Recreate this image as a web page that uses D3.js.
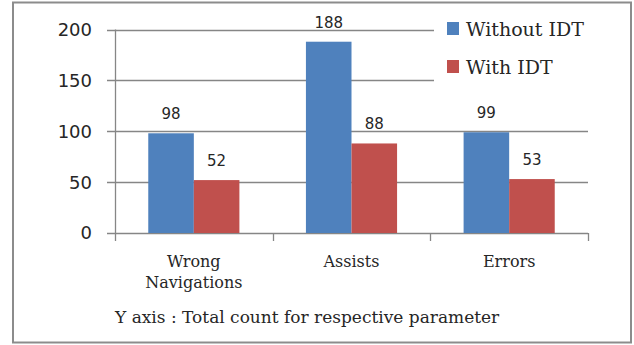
<!DOCTYPE html>
<html><head><meta charset="utf-8">
<script src="https://cdn.jsdelivr.net/npm/d3@7"></script>
<style>body{margin:0;background:#fff}svg{display:block}</style>
</head><body>
<script>
const categories = [["Wrong","Navigations"],["Assists"],["Errors"]];
const seriesNames = ["Without IDT","With IDT"];
const withoutIDT = [98, 188, 99];
const withIDT = [52, 88, 53];
const yTicks = [0, 50, 100, 150, 200];
const footer = "Y axis : Total count for respective parameter";
const colors = ["#4F81BD","#C0504D"];

const W = 634, H = 345;
const svg = d3.select("body").append("svg").attr("width", W).attr("height", H);
svg.append("rect").attr("x",13).attr("y",2.5).attr("width",618).attr("height",340)
  .attr("fill","#fff").attr("stroke","#8c8c8c").attr("stroke-width",2);

const x0 = 115, x1 = 588, yTop = 29.5, yBot = 233;
const y = d3.scaleLinear().domain([0,200]).range([yBot, yTop]);
const xb = d3.scaleBand().domain(d3.range(categories.length)).range([x0, x1]);
const xs = d3.scaleBand().domain(d3.range(seriesNames.length)).range([0, xb.bandwidth()]).paddingOuter(0.73).paddingInner(0);

// gridlines
svg.append("g").selectAll("line").data(yTicks).join("line")
  .attr("x1", x0 - 8).attr("x2", x1).attr("y1", d => Math.round(y(d)) + 0.5).attr("y2", d => Math.round(y(d)) + 0.5)
  .attr("stroke", "#868686").attr("stroke-width", 1.3);
// y axis line
svg.append("line").attr("x1", x0 + 0.5).attr("x2", x0 + 0.5).attr("y1", y(200)).attr("y2", y(0))
  .attr("stroke", "#868686").attr("stroke-width", 1.3);
// x tick marks
const xTickPos = d3.range(categories.length + 1).map(i => i < categories.length ? xb(i) : x1);
svg.append("g").selectAll("line").data(xTickPos).join("line")
  .attr("x1", d => Math.round(d) + 0.5).attr("x2", d => Math.round(d) + 0.5)
  .attr("y1", y(0)).attr("y2", y(0) + 8)
  .attr("stroke", "#868686").attr("stroke-width", 1.3);

// y labels
svg.append("g").selectAll("text").data(yTicks).join("text")
  .attr("x", 92).attr("y", d => y(d)).attr("dy", "0.36em").attr("text-anchor", "end")
  .attr("font-family", "DejaVu Sans").attr("font-size", 18).attr("fill", "#262626")
  .text(d => d);

// legend (white background covers gridlines)
svg.append("rect").attr("x", 434).attr("y", 10).attr("width", 170).attr("height", 84).attr("fill", "#fff");
seriesNames.forEach((n, i) => {
  const ly = 36 + i * 38;
  svg.append("rect").attr("x", 447).attr("y", ly - 14).attr("width", 12).attr("height", 13).attr("fill", colors[i]);
  svg.append("text").attr("x", 466).attr("y", ly).attr("font-family", "DejaVu Serif").attr("font-size", 19).attr("fill", "#262626").text(n);
});

// bars
const data = [withoutIDT, withIDT];
data.forEach((vals, s) => {
  svg.append("g").selectAll("rect").data(vals).join("rect")
    .attr("x", (d, i) => xb(i) + xs(s)).attr("width", xs.bandwidth())
    .attr("y", d => y(d)).attr("height", d => y(0) - y(d))
    .attr("fill", colors[s]);
  svg.append("g").selectAll("text").data(vals).join("text")
    .attr("x", (d, i) => xb(i) + xs(s) + xs.bandwidth() / 2).attr("y", d => y(d) - 14)
    .attr("text-anchor", "middle").attr("font-family", "DejaVu Sans").attr("font-size", 15).attr("fill", "#262626")
    .text(d => d);
});

// category labels
categories.forEach((lines, i) => {
  lines.forEach((t, j) => {
    svg.append("text").attr("x", xb(i) + xb.bandwidth() / 2).attr("y", 267 + j * 21)
      .attr("text-anchor", "middle").attr("font-family", "DejaVu Serif").attr("font-size", 16).attr("fill", "#262626")
      .text(t);
  });
});

// footer
svg.append("text").attr("x", 115).attr("y", 323).attr("font-family", "DejaVu Serif").attr("font-size", 17).attr("fill", "#262626").text(footer);
</script>
</body></html>
